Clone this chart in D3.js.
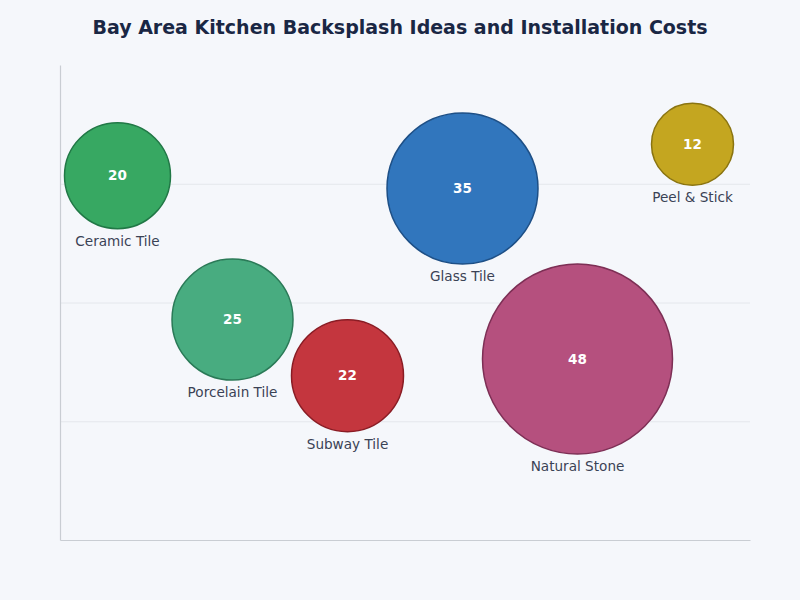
<!DOCTYPE html>
<html>
<head>
<meta charset="utf-8">
<script src="https://cdn.jsdelivr.net/npm/d3@7"></script>
<style>
  html, body { margin: 0; padding: 0; background: #f5f7fb; }
  svg { display: block; font-family: "DejaVu Sans", sans-serif; }
</style>
</head>
<body>
<svg id="chart" width="800" height="600"></svg>
<script>
const categories = ["Ceramic Tile", "Porcelain Tile", "Subway Tile", "Glass Tile", "Natural Stone", "Peel & Stick"];
const costValues = [20, 25, 22, 35, 48, 12];
const yValues = [76.7, 46.4, 34.6, 74, 38.1, 83.3];
const fillColors = ["#37a862", "#48ac80", "#c4363e", "#3176bd", "#b5507e", "#c4a620"];
const strokeColors = ["#217846", "#2a7a57", "#8a1c24", "#1d4f86", "#7d2f55", "#8a7410"];
const yTicks = [0, 25, 50, 75, 100];

const data = categories.map((c, i) => ({ name: c, value: costValues[i], y: yValues[i], fill: fillColors[i], stroke: strokeColors[i] }));

const W = 800, H = 600;
const margin = { top: 65, right: 50, bottom: 60, left: 60 };
const svg = d3.select("#chart");

svg.append("rect").attr("width", W).attr("height", H).attr("fill", "#f5f7fb");

const x = d3.scaleBand().domain(categories).range([margin.left, W - margin.right]).padding(0);
const y = d3.scaleLinear().domain([0, 100]).range([H - margin.bottom, margin.top]);
const r = d3.scaleLinear().domain([12, 48]).range([41, 95]);

// gridlines
svg.append("g")
  .attr("transform", `translate(${margin.left},0)`)
  .call(d3.axisLeft(y).tickValues(yTicks.slice(1, -1)).tickSize(-(W - margin.left - margin.right)).tickFormat(""))
  .call(g => g.select(".domain").remove())
  .call(g => g.selectAll("line").attr("stroke", "#e4e7ec").attr("stroke-width", 1));

// axes
svg.append("g")
  .attr("transform", `translate(0,${H - margin.bottom})`)
  .call(d3.axisBottom(x).tickSize(0).tickFormat(""))
  .call(g => g.select(".domain").attr("stroke", "#c9cdd3").attr("stroke-width", 1.2));
svg.append("g")
  .attr("transform", `translate(${margin.left},0)`)
  .call(d3.axisLeft(y).tickSize(0).tickFormat(""))
  .call(g => g.select(".domain").attr("stroke", "#c9cdd3").attr("stroke-width", 1.2));

// title
svg.append("text")
  .attr("x", W / 2).attr("y", 34)
  .attr("text-anchor", "middle")
  .attr("font-size", 19).attr("font-weight", "bold")
  .attr("fill", "#1a2744")
  .text("Bay Area Kitchen Backsplash Ideas and Installation Costs");

const nodes = svg.append("g").selectAll("g").data(data).join("g")
  .attr("transform", d => `translate(${x(d.name) + x.bandwidth() / 2},${y(d.y)})`);

nodes.append("circle")
  .attr("r", d => r(d.value))
  .attr("fill", d => d.fill)
  .attr("stroke", d => d.stroke)
  .attr("stroke-width", 1.5);

nodes.append("text")
  .attr("text-anchor", "middle")
  .attr("dy", "0.35em")
  .attr("font-size", 13.5).attr("font-weight", "bold")
  .attr("fill", "#ffffff")
  .text(d => d.value);

nodes.append("text")
  .attr("text-anchor", "middle")
  .attr("y", d => r(d.value) + 17)
  .attr("font-size", 13.6)
  .attr("fill", "#3a4255")
  .text(d => d.name);
</script>
</body>
</html>
